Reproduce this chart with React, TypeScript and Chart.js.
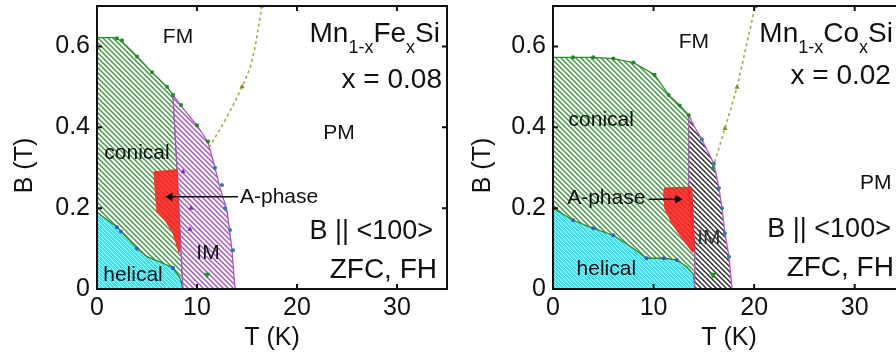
import React, { useEffect, useRef } from 'react';
import { Chart, registerables } from 'chart.js';
Chart.register(...registerables);

const FONT = "'Liberation Sans', Arial, Helvetica, sans-serif";

// ---- shared axes ----
const xTicks = [0, 10, 20, 30];
const xTickLabels = ['0', '10', '20', '30'];
const yTicks = [0, 0.2, 0.4, 0.6];
const yTickLabels = ['0', '0.2', '0.4', '0.6'];
const xMax = 35;
const yMax = 0.7;

// ---- Left panel: Mn1-xFexSi, x = 0.08 ----
const feConicalT = [0, 1.8, 2.5, 4.0, 5.5, 7.0, 7.6, 8.0, 8.4, 8.6, 0, 0];
const feConicalB = [0.622, 0.622, 0.612, 0.575, 0.536, 0.5, 0.48, 0.3, 0.1, 0, 0, 0.622];
const feImT = [7.6, 8.5, 10.0, 11.1, 11.8, 12.3, 13.0, 13.5, 13.8, 8.6, 8.4, 8.0, 7.6];
const feImB = [0.48, 0.45, 0.405, 0.363, 0.3, 0.25, 0.195, 0.096, 0, 0, 0.1, 0.3, 0.48];
const feHelicalT = [0, 2.0, 4.0, 5.0, 6.6, 7.6, 8.3, 8.6, 0, 0];
const feHelicalB = [0.19, 0.153, 0.1, 0.08, 0.064, 0.052, 0.027, 0, 0, 0.19];
const feAPhaseT = [5.7, 8.0, 8.3, 8.2, 7.6, 6.8, 6.0, 5.8, 5.7];
const feAPhaseB = [0.29, 0.295, 0.1, 0.09, 0.138, 0.17, 0.19, 0.25, 0.29];
const feCrossT = [11.2, 12.8, 14.5, 15.5, 16.5];
const feCrossB = [0.35, 0.417, 0.5, 0.565, 0.7];
const feCrossMarkT = [14.5, 16.5];
const feCrossMarkB = [0.5, 0.7];
const feUpperDotsT = [2.0, 2.5, 4.0, 5.5, 7.0, 7.6, 8.4, 10.0, 11.1];
const feUpperDotsB = [0.62, 0.615, 0.575, 0.536, 0.5, 0.48, 0.455, 0.405, 0.365];
const feImDotsT = [11.8, 12.5, 12.8, 13.3, 13.6];
const feImDotsB = [0.3, 0.257, 0.2, 0.146, 0.096];
const feInnerDotsT = [9.4, 9.3, 8.6];
const feInnerDotsB = [0.2, 0.148, 0.29];
const feHelDotsT = [2.0, 2.4, 4.0, 7.6];
const feHelDotsB = [0.153, 0.142, 0.1, 0.052];
const feArrowT = [14.1, 7.3];
const feArrowB = [0.228, 0.228];
const feMarkT = [11.0];
const feMarkB = [0.035];

// ---- Right panel: Mn1-xCoxSi, x = 0.02 ----
const coConicalT = [0, 2, 4, 6, 8, 10.1, 11.5, 12.6, 13.5, 13.5, 14.1, 14.1, 0, 0];
const coConicalB = [0.573, 0.573, 0.573, 0.57, 0.56, 0.53, 0.48, 0.454, 0.43, 0.25, 0.1, 0, 0, 0.573];
const coImT = [13.5, 14.1, 14.8, 16.0, 16.5, 16.8, 17.1, 17.5, 17.8, 14.1, 14.1, 13.5, 13.5];
const coImB = [0.43, 0.4, 0.37, 0.31, 0.25, 0.2, 0.138, 0.08, 0, 0, 0.1, 0.25, 0.43];
const coHelicalT = [0, 2, 4, 6, 8, 9.3, 11, 12.3, 13.3, 14.0, 14.1, 0, 0];
const coHelicalB = [0.2, 0.17, 0.15, 0.133, 0.1, 0.076, 0.076, 0.072, 0.055, 0.035, 0, 0, 0.2];
const coAPhaseT = [11.1, 13.8, 14.1, 13.9, 13.0, 11.8, 11.1, 11.0, 11.1];
const coAPhaseB = [0.25, 0.252, 0.096, 0.09, 0.12, 0.163, 0.2, 0.237, 0.25];
const coCrossT = [15.9, 17.1, 18.3, 20.1];
const coCrossB = [0.3, 0.397, 0.499, 0.699];
const coUpperDotsT = [2, 4, 6, 8, 10.1, 11.5, 12.6, 13.5];
const coUpperDotsB = [0.573, 0.573, 0.57, 0.56, 0.53, 0.48, 0.454, 0.43];
const coImDotsT = [14.8, 16.0, 16.5, 16.8, 17.1, 17.5];
const coImDotsB = [0.37, 0.31, 0.25, 0.2, 0.138, 0.08];
const coHelDotsT = [2, 4, 6, 9.3, 11, 12.3];
const coHelDotsB = [0.17, 0.15, 0.133, 0.076, 0.076, 0.072];
const coArrowT = [9.5, 12.4];
const coArrowB = [0.222, 0.222];
const coMarkT = [15.9];
const coMarkB = [0.035];

type Pt = { x: number; y: number };
const pts = (t: number[], b: number[]): Pt[] => t.map((x, i) => ({ x, y: b[i] }));

type Lbl = { text: string; t: number; b: number; align: CanvasTextAlign; size: number; color?: string };

const feLabels: Lbl[] = [
  { text: 'FM', t: 8.1, b: 0.622, align: 'center', size: 21 },
  { text: 'PM', t: 24.2, b: 0.385, align: 'center', size: 21 },
  { text: 'conical', t: 4.0, b: 0.336, align: 'center', size: 21 },
  { text: 'A-phase', t: 14.3, b: 0.227, align: 'left', size: 21 },
  { text: 'IM', t: 11.1, b: 0.089, align: 'center', size: 21 },
  { text: 'helical', t: 3.6, b: 0.035, align: 'center', size: 21 },
  { text: 'x = 0.08', t: 34.5, b: 0.516, align: 'right', size: 28 },
  { text: 'B || <100>', t: 33.6, b: 0.141, align: 'right', size: 27 },
  { text: 'ZFC, FH', t: 34.0, b: 0.047, align: 'right', size: 28 },
];
const coLabels: Lbl[] = [
  { text: 'FM', t: 14.0, b: 0.61, align: 'center', size: 21 },
  { text: 'PM', t: 32.1, b: 0.262, align: 'center', size: 21 },
  { text: 'conical', t: 4.8, b: 0.417, align: 'center', size: 21 },
  { text: 'A-phase', t: 5.3, b: 0.225, align: 'center', size: 21 },
  { text: 'IM', t: 15.5, b: 0.126, align: 'center', size: 21, color: '#333' },
  { text: 'helical', t: 5.3, b: 0.05, align: 'center', size: 21 },
  { text: 'x = 0.02', t: 33.6, b: 0.526, align: 'right', size: 28 },
  { text: 'B || <100>', t: 33.6, b: 0.146, align: 'right', size: 27 },
  { text: 'ZFC, FH', t: 33.9, b: 0.052, align: 'right', size: 28 },
];
const feFormula: [string, boolean][] = [['Mn', false], ['1-x', true], ['Fe', false], ['x', true], ['Si', false]];
const coFormula: [string, boolean][] = [['Mn', false], ['1-x', true], ['Co', false], ['x', true], ['Si', false]];

function makeHatch(bg: string | null, fg: string, size: number, lw: number): CanvasPattern {
  const c = document.createElement('canvas');
  c.width = size;
  c.height = size;
  const g = c.getContext('2d')!;
  if (bg) {
    g.fillStyle = bg;
    g.fillRect(0, 0, size, size);
  }
  g.strokeStyle = fg;
  g.lineWidth = lw;
  g.beginPath();
  g.moveTo(-1, -1); g.lineTo(size + 1, size + 1);
  g.moveTo(size - 1, -1); g.lineTo(size + 1, 1);
  g.moveTo(-1, size - 1); g.lineTo(1, size + 1);
  g.stroke();
  return g.createPattern(c, 'repeat')!;
}

function region(data: Pt[], fill: any, border: string, order: number, bw = 1.3) {
  return { data, fill: 'shape', backgroundColor: fill, borderColor: border, borderWidth: bw, pointRadius: 0, tension: 0, order };
}
function dots(data: Pt[], color: string, style: string, r: number, rot = 0, order = 3) {
  return { data, showLine: false, fill: false, pointStyle: style, pointRadius: r, pointRotation: rot, pointBackgroundColor: color, pointBorderColor: color, pointBorderWidth: 0, order };
}

type PanelCfg = {
  left: number;
  width: number;
  axisW: number;
  padRight: number;
  yTitleDx: number;
  labels: Lbl[];
  formula: [string, boolean][];
  formulaT: number;
  formulaB: number;
  build: () => any[];
};

function Panel({ cfg }: { cfg: PanelCfg }) {
  const ref = useRef<HTMLCanvasElement>(null);
  useEffect(() => {
    const canvas = ref.current!;
    const decor = {
      id: 'decor',
      afterDatasetsDraw(chart: any) {
        const { ctx, chartArea: a, scales } = chart;
        const x = scales.x, y = scales.y;
        ctx.save();
        // labels
        ctx.textBaseline = 'middle';
        for (const l of cfg.labels) {
          ctx.font = `${l.size}px ${FONT}`;
          ctx.fillStyle = l.color || '#111';
          ctx.textAlign = l.align;
          ctx.fillText(l.text, x.getPixelForValue(l.t), y.getPixelForValue(l.b));
        }
        // formula with subscripts
        ctx.textBaseline = 'alphabetic';
        ctx.textAlign = 'left';
        const big = 28, small = 18;
        let total = 0;
        const ws: number[] = [];
        for (const [s, sub] of cfg.formula) {
          ctx.font = `${sub ? small : big}px ${FONT}`;
          const w = ctx.measureText(s).width;
          ws.push(w);
          total += w;
        }
        let px = x.getPixelForValue(cfg.formulaT) - total;
        const base = y.getPixelForValue(cfg.formulaB);
        cfg.formula.forEach(([s, sub], i) => {
          ctx.font = `${sub ? small : big}px ${FONT}`;
          ctx.fillStyle = '#111';
          ctx.fillText(s, px, base + (sub ? 11 : 0));
          px += ws[i];
        });
        // frame
        ctx.strokeStyle = '#111';
        ctx.lineWidth = 2;
        ctx.strokeRect(a.left, a.top, a.right - a.left, a.bottom - a.top);
        // inward ticks
        ctx.lineWidth = 2;
        ctx.beginPath();
        for (const v of xTicks) {
          const p = x.getPixelForValue(v);
          ctx.moveTo(p, a.bottom); ctx.lineTo(p, a.bottom - 5);
          ctx.moveTo(p, a.top); ctx.lineTo(p, a.top + 5);
        }
        for (const v of yTicks) {
          const p = y.getPixelForValue(v);
          ctx.moveTo(a.left, p); ctx.lineTo(a.left + 5, p);
          ctx.moveTo(a.right, p); ctx.lineTo(a.right - 5, p);
        }
        ctx.stroke();
        // axis titles
        ctx.fillStyle = '#111';
        ctx.font = `25px ${FONT}`;
        ctx.textAlign = 'center';
        ctx.textBaseline = 'middle';
        ctx.fillText('T (K)', (a.left + a.right) / 2, 338);
        ctx.save();
        ctx.translate(a.left + cfg.yTitleDx, (a.top + a.bottom) / 2 + 18);
        ctx.rotate(-Math.PI / 2);
        ctx.fillText('B (T)', 0, 0);
        ctx.restore();
        ctx.restore();
      },
    };
    const chart = new Chart(canvas, {
      type: 'line',
      data: { datasets: cfg.build() },
      options: {
        responsive: false,
        animation: false,
        devicePixelRatio: 1,
        events: [],
        layout: { padding: { top: 6, right: cfg.padRight, left: 0, bottom: 0 } },
        plugins: { legend: { display: false }, tooltip: { enabled: false } },
        scales: {
          x: {
            type: 'linear',
            min: 0,
            max: xMax,
            grid: { display: false, drawTicks: false },
            border: { display: false },
            ticks: {
              color: '#111',
              font: { size: 25, family: FONT },
              padding: 4,
              maxRotation: 0,
              autoSkip: false,
              callback: (_v: any, i: number) => xTickLabels[i],
            },
            afterBuildTicks: (s: any) => { s.ticks = xTicks.map((v) => ({ value: v })); },
            afterFit: (s: any) => { s.height = 74; s.paddingLeft = 0; s.paddingRight = 0; },
          },
          y: {
            type: 'linear',
            min: 0,
            max: yMax,
            grid: { display: false, drawTicks: false },
            border: { display: false },
            ticks: {
              color: '#111',
              font: { size: 25, family: FONT },
              padding: 7,
              autoSkip: false,
              callback: (_v: any, i: number) => yTickLabels[i],
            },
            afterBuildTicks: (s: any) => { s.ticks = yTicks.map((v) => ({ value: v })); },
            afterFit: (s: any) => { s.width = cfg.axisW; s.paddingTop = 0; s.paddingBottom = 0; },
          },
        },
      } as any,
      plugins: [decor],
    });
    return () => chart.destroy();
  }, []);
  return (
    <canvas
      ref={ref}
      width={cfg.width}
      height={363}
      style={{ position: 'absolute', left: cfg.left, top: 0, width: cfg.width, height: 363 }}
    />
  );
}

const feCfg: PanelCfg = {
  left: 0,
  width: 452,
  axisW: 97,
  padRight: 5,
  yTitleDx: -72,
  labels: feLabels,
  formula: feFormula,
  formulaT: 34.3,
  formulaB: 0.61,
  build: () => {
    const conical = makeHatch('#ffffff', '#3e963e', 5, 1.4);
    const helical = makeHatch('#3fe3f2', '#b4f5fb', 4, 1.0);
    const im = makeHatch('#ffffff', '#a452c4', 5, 1.4);
    return [
      region(pts(feConicalT, feConicalB), conical, '#2c8c2c', 10),
      region(pts(feHelicalT, feHelicalB), helical, '#2c8c2c', 9),
      region(pts(feImT, feImB), im, '#b050c8', 8),
      region(pts(feAPhaseT, feAPhaseB), 'rgba(255,28,28,0.86)', '#ff2a2a', 7, 1),
      { data: pts(feCrossT, feCrossB), fill: false, borderColor: '#a8a83c', borderWidth: 1.6, borderDash: [3, 3], tension: 0.35, pointRadius: 0, order: 6 },
      dots(pts(feCrossMarkT, feCrossMarkB), '#8a8a22', 'triangle', 3),
      dots(pts(feUpperDotsT, feUpperDotsB), '#1f8a1f', 'rect', 2.5),
      dots(pts(feImDotsT, feImDotsB), '#2a7fa8', 'circle', 2),
      dots(pts(feInnerDotsT, feInnerDotsB), '#7a2ad8', 'triangle', 3),
      dots(pts(feHelDotsT, feHelDotsB), '#2f5fc0', 'circle', 2),
      dots(pts(feMarkT, feMarkB), '#1f9a1f', 'triangle', 4, 180),
      { data: pts(feArrowT, feArrowB), fill: false, borderColor: '#111', borderWidth: 1.6, pointStyle: 'triangle', pointRotation: -90, pointRadius: [0, 5], pointBackgroundColor: '#111', pointBorderWidth: 0, order: 1 },
    ];
  },
};

const coCfg: PanelCfg = {
  left: 453,
  width: 460,
  axisW: 100,
  padRight: 8,
  yTitleDx: -70,
  labels: coLabels,
  formula: coFormula,
  formulaT: 33.8,
  formulaB: 0.61,
  build: () => {
    const conical = makeHatch('#ffffff', '#3e963e', 5, 1.4);
    const helical = makeHatch('#3fe3f2', '#b4f5fb', 4, 1.0);
    const im = makeHatch('#ffffff', '#2a2a2a', 5, 1.4);
    return [
      region(pts(coConicalT, coConicalB), conical, '#2c8c2c', 10),
      region(pts(coHelicalT, coHelicalB), helical, '#2c8c2c', 9),
      region(pts(coImT, coImB), im, '#c050d0', 8),
      region(pts(coAPhaseT, coAPhaseB), 'rgba(255,28,28,0.86)', '#ff2a2a', 7, 1),
      { data: pts(coCrossT, coCrossB), fill: false, borderColor: '#a8a83c', borderWidth: 1.6, borderDash: [3, 3], tension: 0, pointRadius: [3, 3, 3, 3], pointStyle: 'triangle', pointBackgroundColor: ['#2a9a2a', '#8a8a22', '#8a8a22', '#8a8a22'], pointBorderWidth: 0, order: 6 },
      dots(pts(coUpperDotsT, coUpperDotsB), '#1f8a1f', 'circle', 2),
      dots(pts(coImDotsT, coImDotsB), '#2a7fa8', 'circle', 2),
      dots(pts(coHelDotsT, coHelDotsB), '#2f5fc0', 'circle', 2),
      dots(pts(coMarkT, coMarkB), '#1f9a1f', 'triangle', 4, 180),
      { data: pts(coArrowT, coArrowB), fill: false, borderColor: '#111', borderWidth: 1.6, pointStyle: 'triangle', pointRotation: 90, pointRadius: [0, 5], pointBackgroundColor: '#111', pointBorderWidth: 0, order: 1 },
    ];
  },
};

export default function App() {
  return (
    <div style={{ position: 'fixed', left: 0, top: 0, width: 896, height: 363, overflow: 'hidden', background: '#fff' }}>
      <Panel cfg={feCfg} />
      <Panel cfg={coCfg} />
    </div>
  );
}
